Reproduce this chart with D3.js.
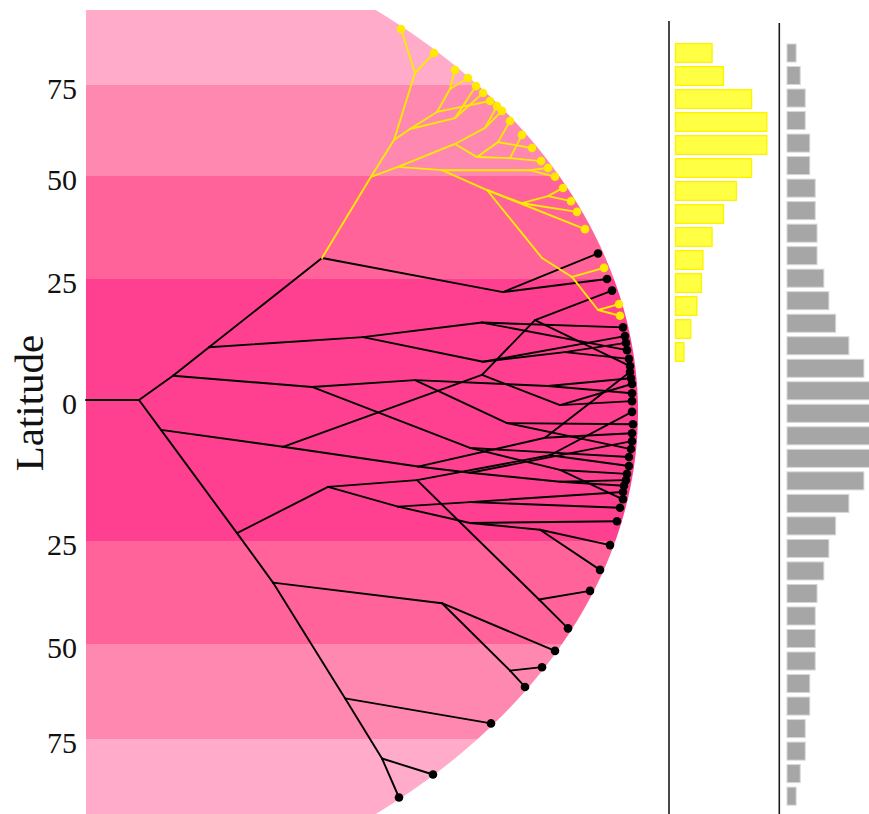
<!DOCTYPE html>
<html>
<head>
<meta charset="utf-8">
<script src="https://cdn.jsdelivr.net/npm/d3@7"></script>
<style>
  html, body { margin: 0; padding: 0; background: #fff; }
  svg { display: block; }
  .serif { font-family: "Liberation Serif", "Times New Roman", Times, serif; }
</style>
</head>
<body>
<svg id="chart" width="869" height="814"></svg>
<script>
// ---- Latitude axis -------------------------------------------------------
const latTicks = [75, 50, 25, 0, -25, -50, -75];
const latBands = [[90, 75], [75, 50], [50, 25], [25, -25], [-25, -50], [-50, -75], [-75, -90]];
const bandColors = ["#FFABC9", "#FF88B1", "#FF6399", "#FF3F8F", "#FF6399", "#FF88B1", "#FFABC9"];

// ---- Phylogeny: [id, parent, age (Myr from stem), latitude] ---------------
const stemNodes = [
  ["R", null, 0, 0],
  ["N0", "R", 5.3, 0]
];
const blackInternal = [
  ["A", "N0", 8.7, 5.0], ["A2", "A", 12.3, 10.9], ["C", "A2", 23.6, 30.1],
  ["C2", "C", 41.7, 22.3], ["D", "A2", 27.7, 13.0], ["G", "D", 39.6, 16.0],
  ["D2", "D", 39.7, 7.9], ["D3", "D2", 47.9, 9.9], ["P1", "A", 22.6, 2.7],
  ["E", "P1", 32.9, 4.1], ["E1", "E", 46.2, 2.9], ["E2", "E", 42.1, -4.1],
  ["P2", "P1", 38.4, -8.5], ["P3", "P2", 47.4, -12.4], ["B", "N0", 7.5, -5.3],
  ["F0", "B", 19.7, -8.3], ["H", "F0", 39.6, 5.2], ["I", "H", 44.9, 16.5],
  ["H2", "H", 47.4, -0.9], ["F", "F0", 33.2, -11.8], ["F1", "F", 45.9, -6.7],
  ["F2", "F", 38.4, -12.9], ["F3", "F2", 47.4, -14.5], ["B2", "B", 15.1, -23.6],
  ["K", "B2", 24.2, -15.4], ["M", "K", 33.1, -14.2], ["M2", "M", 45.3, -39.2],
  ["M3", "M", 46.4, -9.8], ["J", "K", 31.2, -18.9], ["J1", "J", 38.4, -18.1],
  ["J2", "J", 38.4, -21.8], ["J3", "J2", 45.4, -23.0], ["B3", "B2", 18.7, -35.1],
  ["B4", "B3", 25.9, -64.3], ["B5", "B4", 29.6, -78.9], ["L", "B3", 35.6, -40.1],
  ["L2", "L", 42.4, -57.0]
];
const blackTips = [
  ["t1", "C2", 51.2, 31.2], ["t2", "C2", 52.1, 25.0], ["t3", "I", 52.6, 22.6],
  ["t4", "G", 53.7, 15.0], ["t5", "D2", 53.9, 13.2], ["t6", "D3", 54.0, 11.8],
  ["t7", "G", 54.1, 10.3], ["t8", "D3", 54.3, 8.5], ["t9", "I", 54.4, 7.0],
  ["t10", "F1", 54.4, 5.8], ["t11", "E1", 54.5, 4.5], ["t12", "H2", 54.6, 3.3],
  ["t13", "E1", 54.6, 1.4], ["t14", "H2", 54.6, -0.2], ["t15", "M3", 54.6, -2.1],
  ["t16", "E2", 54.7, -4.3], ["t17", "F1", 54.6, -5.9], ["t18", "F2", 54.6, -7.3],
  ["t19", "E2", 54.5, -8.7], ["t20", "P2", 54.3, -10.1], ["t21", "M3", 54.3, -11.7],
  ["t22", "P3", 54.1, -13.1], ["t23", "F3", 54.0, -14.2], ["t24", "F3", 53.8, -15.2],
  ["t25", "J1", 53.7, -16.3], ["t26", "P3", 53.7, -17.6], ["t27", "J1", 53.4, -19.1],
  ["t28", "J2", 53.1, -21.5], ["t29", "J3", 52.4, -26.0], ["t30", "J3", 51.4, -32.0],
  ["t31", "M2", 50.4, -37.1], ["t32", "M2", 48.2, -46.2], ["t33", "L", 46.9, -51.8],
  ["t34", "L2", 45.6, -56.1], ["t35", "L2", 43.9, -61.3], ["t36", "B4", 40.5, -70.9],
  ["t37", "B5", 34.7, -82.1], ["t38", "B5", 31.3, -86.7]
];
const yellowInternal = [
  ["Y1", "C", 28.5, 49.8], ["Ya", "Y1", 30.8, 59.9], ["Yb", "Ya", 32.9, 77.4],
  ["Yc", "Ya", 32.4, 62.9], ["Yd", "Yc", 35.1, 67.6], ["Yf", "Yd", 36.4, 73.9],
  ["Ye", "Yc", 36.9, 65.9], ["Yh", "Y1", 31.2, 52.5], ["Yi", "Yh", 36.9, 58.8],
  ["Yp", "Yi", 39.9, 63.2], ["Yk", "Yi", 39.1, 55.2], ["Yn", "Yk", 41.2, 59.3],
  ["Yl", "Yk", 42.4, 54.9], ["Yj", "Yh", 35.6, 51.6], ["Ys", "Yj", 44.4, 51.6],
  ["Yr", "Yj", 40.1, 46.6], ["Yt", "Yr", 43.6, 43.4], ["Yv", "Yt", 46.2, 45.1],
  ["Yu", "Yr", 45.6, 30.1], ["Yx", "Yu", 48.6, 25.5], ["Yy", "Yx", 51.2, 18.6]
];
const yellowTips = [
  ["y1", "Yb", 31.5, 86.2], ["y2", "Yb", 34.8, 81.4], ["y3", "Yf", 36.9, 78.0],
  ["y4", "Yf", 38.2, 76.4], ["y5", "Ye", 39.0, 74.7], ["y6", "Ye", 39.7, 72.8],
  ["y7", "Yd", 40.4, 70.6], ["y8", "Yp", 41.1, 69.2], ["y9", "Yp", 41.6, 67.9],
  ["y10", "Yn", 42.4, 65.1], ["y11", "Yl", 43.6, 61.3], ["y12", "Yn", 44.6, 57.7],
  ["y13", "Yl", 45.5, 54.1], ["y14", "Ys", 46.2, 52.2], ["y15", "Ys", 46.9, 49.8],
  ["y16", "Yv", 47.7, 47.1], ["y17", "Yv", 48.5, 43.9], ["y18", "Yt", 49.1, 41.3],
  ["y19", "Yr", 49.9, 37.1], ["y20", "Yx", 51.8, 27.7], ["y21", "Yy", 53.3, 19.8],
  ["y22", "Yy", 53.4, 17.4]
];

// ---- Latitudinal histograms ---------------------------------------------
const yellowCounts = [4.8, 6.3, 10, 12, 12, 10, 8, 6.3, 4.8, 3.6, 3.4, 2.8, 2, 1.1];
const grayCounts = [2, 2.9, 4, 4, 5, 5, 6.2, 6.2, 6.6, 6.6, 8.1, 9.2, 10.7, 13.6, 16.9, 19.5, 21,
                    21, 19.5, 16.9, 13.6, 10.7, 9.2, 8.1, 6.6, 6.2, 6.2, 6.2, 5, 5, 4, 4, 2.9, 2];

// ---- Colours -------------------------------------------------------------
const cladeColor = { black: "#000000", yellow: "#FFEA00" };

// ---- Scales --------------------------------------------------------------
const svg = d3.select("#chart");
const x = d3.scaleLinear().domain([0, 55]).range([86, 636]);
const y = d3.scaleLinear()
  .domain([90, 75, 50, 25, 0, -25, -50, -75, -90])
  .range([10, 85, 176, 279, 400, 541, 644, 739, 814]);

// outline of the plotted region (tips sit just inside it)
const ell = { cx: -115, cy: 412, a: 753, b: 530 };
const edgeX = py => ell.cx + ell.a * Math.sqrt(Math.max(0, 1 - ((py - ell.cy) / ell.b) ** 2));
const yTop = y(90), yBottom = y(-90);
const outline = [[x(0), yTop]];
for (let py = yTop; py <= yBottom; py += 2) outline.push([edgeX(py), py]);
outline.push([edgeX(yBottom), yBottom], [x(0), yBottom]);

svg.append("clipPath").attr("id", "region")
  .append("path").attr("d", d3.line()(outline) + "Z");

// ---- Latitude bands ------------------------------------------------------
svg.append("g").attr("clip-path", "url(#region)")
  .selectAll("rect").data(latBands).join("rect")
  .attr("x", x(0))
  .attr("y", d => y(d[0]))
  .attr("width", 600)
  .attr("height", d => y(d[1]) - y(d[0]))
  .attr("fill", (d, i) => bandColors[i]);

// ---- Tree ---------------------------------------------------------------
const toObj = clade => r => ({ id: r[0], parent: r[1], age: r[2], lat: r[3], clade });
const nodes = [
  ...stemNodes.map(toObj("black")),
  ...blackInternal.map(toObj("black")),
  ...blackTips.map(toObj("black")),
  ...yellowInternal.map(toObj("yellow")),
  ...yellowTips.map(toObj("yellow"))
];
const byId = new Map(nodes.map(n => [n.id, n]));
const hasChild = new Set(nodes.map(n => n.parent).filter(p => p));
const edges = nodes.filter(n => n.parent).map(n => ({ from: byId.get(n.parent), to: n }));
const tips = nodes.filter(n => !hasChild.has(n.id));

svg.append("g")
  .selectAll("line").data(edges).join("line")
  .attr("x1", d => x(d.from.age)).attr("y1", d => y(d.from.lat))
  .attr("x2", d => x(d.to.age)).attr("y2", d => y(d.to.lat))
  .attr("stroke", d => cladeColor[d.to.clade])
  .attr("stroke-width", 1.9)
  .attr("stroke-linecap", "round");

svg.append("g")
  .selectAll("circle").data(tips).join("circle")
  .attr("cx", d => x(d.age)).attr("cy", d => y(d.lat))
  .attr("r", 4.3)
  .attr("fill", d => cladeColor[d.clade]);

// ---- Latitude axis labels -----------------------------------------------
svg.append("g")
  .selectAll("text").data(latTicks).join("text")
  .attr("class", "serif")
  .attr("x", 77).attr("y", d => y(d) + 3)
  .attr("text-anchor", "end")
  .attr("dominant-baseline", "central")
  .attr("font-size", 30).attr("fill", "#111")
  .text(d => Math.abs(d));

svg.append("text")
  .attr("class", "serif")
  .attr("transform", "translate(43,403) rotate(-90)")
  .attr("text-anchor", "middle")
  .attr("font-size", 41).attr("fill", "#111")
  .text("Latitude");

// ---- Histograms ---------------------------------------------------------
const yBandY = d3.scaleBand().domain(d3.range(yellowCounts.length))
  .range([41.5, 363.5]).paddingInner(0.19).paddingOuter(0.095);
const yBandX = d3.scaleLinear().domain([0, 12]).range([675.5, 766.8]);

const gBandY = d3.scaleBand().domain(d3.range(grayCounts.length))
  .range([41.75, 807.4]).paddingInner(0.2).paddingOuter(0.1);
const gBandX = d3.scaleLinear().domain([0, 20]).range([787, 878]);

svg.append("line").attr("x1", 669).attr("x2", 669).attr("y1", 21).attr("y2", 814)
  .attr("stroke", "#1a1a1a").attr("stroke-width", 1.6);
svg.append("line").attr("x1", 779.3).attr("x2", 779.3).attr("y1", 23).attr("y2", 814)
  .attr("stroke", "#1a1a1a").attr("stroke-width", 1.6);

svg.append("g")
  .selectAll("rect").data(yellowCounts).join("rect")
  .attr("x", yBandX(0))
  .attr("y", (d, i) => yBandY(i))
  .attr("width", d => yBandX(d) - yBandX(0))
  .attr("height", yBandY.bandwidth())
  .attr("fill", "#FFFF44").attr("stroke", "#FFF200").attr("stroke-width", 1.4);

svg.append("g")
  .selectAll("rect").data(grayCounts).join("rect")
  .attr("x", gBandX(0))
  .attr("y", (d, i) => gBandY(i))
  .attr("width", d => gBandX(d) - gBandX(0))
  .attr("height", gBandY.bandwidth())
  .attr("fill", "#A6A6A6").attr("stroke", "#D6D6D6").attr("stroke-width", 1);
</script>
</body>
</html>
